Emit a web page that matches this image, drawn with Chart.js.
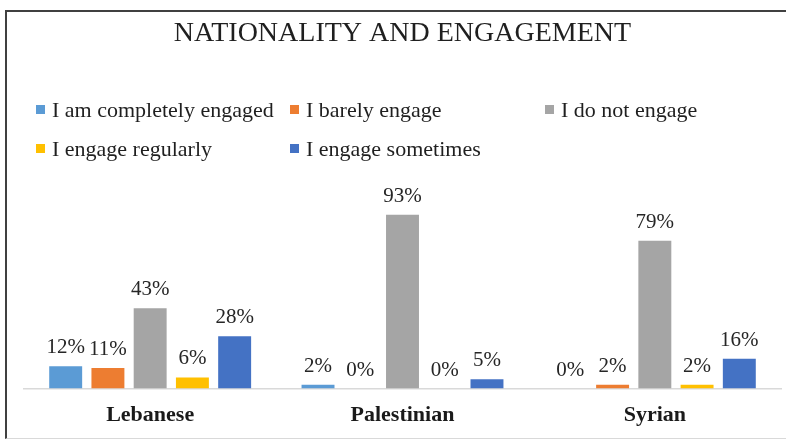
<!DOCTYPE html>
<html>
<head>
<meta charset="utf-8">
<script src="https://cdn.jsdelivr.net/npm/chart.js@4/dist/chart.umd.min.js"></script>
<style>
  html, body { margin: 0; padding: 0; background: #fff; overflow: hidden; }
  #frame {
    position: absolute; left: 5px; top: 10px; width: 800px; height: 426px;
    border-left: 2px solid #404040; border-top: 2px solid #404040;
    border-bottom: 1px solid #d9d9d9;
  }
  #wrap { position: absolute; left: 0; top: 0; width: 786px; height: 443px; }
</style>
</head>
<body>
<div id="frame"></div>
<div id="wrap"><canvas id="myChart"></canvas></div>
<script>
let categories = ["Lebanese", "Palestinian", "Syrian"];
let seriesNames = [
  "I am completely engaged",
  "I barely engage",
  "I do not engage",
  "I engage regularly",
  "I engage sometimes",
];
let completelyEngaged = [12, 2, 0];
let barelyEngage = [11, 0, 2];
let doNotEngage = [43, 93, 79];
let engageRegularly = [6, 0, 2];
let engageSometimes = [28, 5, 16];
let colors = ["#5B9BD5", "#ED7D31", "#A5A5A5", "#FFC000", "#4472C4"];

let allSeries = [completelyEngaged, barelyEngage, doNotEngage, engageRegularly, engageSometimes];
let serif = "'Liberation Serif', 'Times New Roman', serif";

// value labels over each bar
let barLabels = {
  id: "barLabels",
  afterDatasetsDraw(chart) {
    let c = chart.ctx;
    c.save();
    c.font = "21px " + serif;
    c.fillStyle = "#262626";
    c.textAlign = "center";
    c.textBaseline = "alphabetic";
    chart.data.datasets.forEach((ds, i) => {
      chart.getDatasetMeta(i).data.forEach((bar, j) => {
        c.fillText(ds.data[j] + "%", bar.x, bar.y - 13);
      });
    });
    c.restore();
  },
};

// legend laid out in a 3 column grid like the original
let gridLegend = {
  id: "gridLegend",
  afterDraw(chart) {
    let c = chart.ctx;
    let colX = [36, 290, 545];
    let rowY = [117, 156];
    c.save();
    c.font = "22px " + serif;
    c.textBaseline = "alphabetic";
    c.textAlign = "left";
    chart.data.datasets.forEach((ds, i) => {
      let x = colX[i % 3];
      let y = rowY[Math.floor(i / 3)];
      c.fillStyle = ds.backgroundColor;
      c.fillRect(x, y - 12, 9, 9);
      c.fillStyle = "#1f1f1f";
      c.fillText(ds.label, x + 16, y);
    });
    c.restore();
  },
};

let ctx = document.getElementById("myChart").getContext("2d");

let data = {
  type: "bar",
  data: {
    labels: categories,
    datasets: allSeries.map((vals, i) => ({
      label: seriesNames[i],
      data: vals,
      backgroundColor: colors[i],
      borderWidth: 0,
      categoryPercentage: 0.837,
      barPercentage: 0.78,
    })),
  },
  options: {
    responsive: true,
    maintainAspectRatio: false,
    animation: false,
    layout: { padding: { left: 24, right: 5, top: 0, bottom: 0 } },
    plugins: {
      legend: { display: false },
      tooltip: { enabled: false },
      title: {
        display: true,
        text: "NATIONALITY AND ENGAGEMENT",
        color: "#1f1f1f",
        font: { family: serif, size: 28, weight: "normal" },
        padding: { top: 17, bottom: 151 },
      },
    },
    scales: {
      x: {
        grid: { display: false, drawTicks: false },
        border: { display: true, color: "#d9d9d9", width: 1.5 },
        ticks: {
          color: "#1a1a1a",
          padding: 14,
          font: { family: serif, size: 22, weight: "bold" },
        },
      },
      y: {
        display: false,
        min: 0,
        max: 100,
      },
    },
  },
  plugins: [barLabels, gridLegend],
};

let myChart = new Chart(ctx, data);
</script>
</body>
</html>
